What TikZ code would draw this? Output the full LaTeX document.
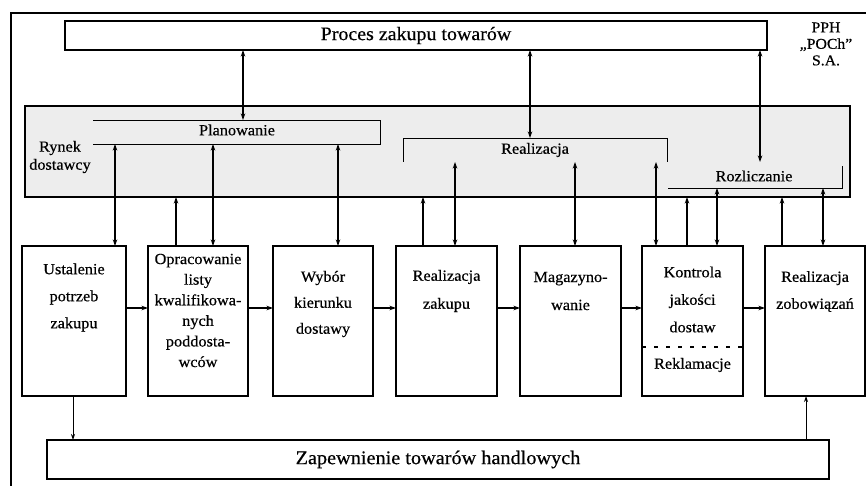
\documentclass[tikz,border=0pt]{standalone}
\usepackage{fontspec}
\setmainfont[FakeStretch=1.05,FakeBold=0.5]{Liberation Serif}
\usetikzlibrary{arrows.meta}
\begin{document}
\begin{tikzpicture}[x=1pt,y=-1pt,
  box/.style={draw, line width=2.2pt, inner sep=0pt, outer sep=0pt},
  ghost/.style={inner sep=0pt, outer sep=0pt},
  lbl/.style={font=\fontsize{15.5}{27}\selectfont, align=center, inner sep=0pt},
  bigtxt/.style={font=\fontsize{19}{22}\selectfont},
  brk/.style={line width=0.9pt},
  dbl/.style={{Stealth[length=6.5pt,width=4.5pt]}-{Stealth[length=6.5pt,width=4.5pt]}, line width=1.2pt},
  onearrow/.style={-{Stealth[length=6.5pt,width=4.5pt]}, line width=1.2pt},
  thinarrow/.style={-{Stealth[length=6pt,width=4pt]}, line width=0.8pt}]
\useasboundingbox (0,0) rectangle (866,486);
% outer frame (left and top edges only)
\coordinate (fBL) at (11,486);
\coordinate (fTL) at (11,13);
\coordinate (fTR) at (866,13);
\draw[line width=1.3pt] (fBL) -- (fTL) -- (fTR);

% top process box
\node[box, bigtxt, minimum width=702pt, minimum height=29pt] (top) at (416,35.5) {Proces zakupu towarów};
\node[font=\fontsize{15}{16.5}\selectfont, align=center, inner sep=0pt] (pph) at (826,44) {PPH\\„POCh”\\S.A.};

% shaded band
\node[draw, line width=1.2pt, fill=gray!14, minimum width=825pt, minimum height=91pt, inner sep=0pt, outer sep=0pt] (band) at (437.5,151.5) {};

% brackets
\node[ghost, minimum width=287pt, minimum height=24pt] (plan) at (236.5,132) {};
\draw[brk] (plan.north west) -- (plan.north east) -- (plan.south east) -- (plan.south west);
\node[lbl] (plantxt) at (237,130) {Planowanie};

\node[ghost, minimum width=264pt, minimum height=24pt] (real) at (535,150) {};
\draw[brk] (real.south west) -- (real.north west) -- (real.north east) -- (real.south east);
\node[lbl] (realtxt) at (535,150) {Realizacja};

\node[ghost, minimum width=174pt, minimum height=22pt] (rozl) at (755,177) {};
\draw[brk] (rozl.south west) -- (rozl.south east) -- (rozl.north east);
\node[lbl] (rozltxt) at (754,176) {Rozliczanie};

\node[lbl, font=\fontsize{15.5}{18}\selectfont] (rynek) at (60,157) {Rynek\\dostawcy};

% process boxes
\node[box, minimum width=104pt, minimum height=150pt] (b1) at (74,321) {};
\node[box, minimum width=100pt, minimum height=150pt] (b2) at (198,321) {};
\node[box, minimum width=100pt, minimum height=150pt] (b3) at (323,321) {};
\node[box, minimum width=101pt, minimum height=150pt] (b4) at (446.5,321) {};
\node[box, minimum width=101pt, minimum height=150pt] (b5) at (570.5,321) {};
\node[box, minimum width=101pt, minimum height=150pt] (b6) at (692.5,321) {};
\node[box, minimum width=100pt, minimum height=150pt] (b7) at (815,321) {};

\node[lbl] (t1) at (74,297.5) {Ustalenie\\potrzeb\\zakupu};
\node[lbl, font=\fontsize{15.5}{20.6}\selectfont] (t2) at (198,310.5) {Opracowanie\\listy\\kwalifikowa-\\nych\\poddosta-\\wców};
\node[lbl, font=\fontsize{15.5}{26}\selectfont] (t3) at (323,304) {Wybór\\kierunku\\dostawy};
\node[lbl, font=\fontsize{15.5}{28}\selectfont] (t4) at (446.5,291) {Realizacja\\zakupu};
\node[lbl, font=\fontsize{15.5}{28}\selectfont] (t5) at (570.5,291) {Magazyno-\\wanie};
\node[lbl, font=\fontsize{15.5}{27.5}\selectfont] (t6) at (692.5,299.5) {Kontrola\\jakości\\dostaw};
\node[lbl, font=\fontsize{15.5}{27}\selectfont] (t7) at (815,291.5) {Realizacja\\zobowiązań};
\coordinate (dl) at (0,347);
\draw[line width=2.2pt, dash pattern=on 4pt off 8pt] (b6.west |- dl) -- (b6.east |- dl);
\node[lbl] (t6b) at (692.5,365) {Reklamacje};

% bottom box
\node[box, font=\fontsize{19.3}{22}\selectfont, minimum width=782pt, minimum height=39pt] (bot) at (438,459.5) {Zapewnienie towarów handlowych};

% horizontal flow arrows
\coordinate (hy) at (0,308);
\draw[onearrow] (b1.east |- hy) -- (b2.west |- hy);
\draw[onearrow] (b2.east |- hy) -- (b3.west |- hy);
\draw[onearrow] (b3.east |- hy) -- (b4.west |- hy);
\draw[onearrow] (b4.east |- hy) -- (b5.west |- hy);
\draw[onearrow] (b5.east |- hy) -- (b6.west |- hy);
\draw[onearrow] (b6.east |- hy) -- (b7.west |- hy);

% top box to band
\coordinate (va) at (243,0);
\coordinate (vb) at (530,0);
\coordinate (vc) at (760,0);
\coordinate (vcEnd) at (760,162);
\draw[dbl] (top.south -| va) -- (plan.north -| va);
\draw[dbl] (top.south -| vb) -- (real.north -| vb);
\draw[dbl] (top.south -| vc) -- (vcEnd);

% band to boxes
\coordinate (x1) at (115,0);
\coordinate (x2) at (176,0);
\coordinate (x3) at (213,0);
\coordinate (x4) at (338,0);
\coordinate (x5) at (423,0);
\coordinate (x6) at (455,0);
\coordinate (x7) at (575,0);
\coordinate (x8) at (656,0);
\coordinate (x9) at (687,0);
\coordinate (x10) at (717,0);
\coordinate (x11) at (782,0);
\coordinate (x12) at (823,0);
\coordinate (ry) at (0,162);
\draw[dbl] (plan.south -| x1) -- (b1.north -| x1);
\draw[onearrow] (b2.north -| x2) -- (band.south -| x2);
\draw[dbl] (plan.south -| x3) -- (b2.north -| x3);
\draw[dbl] (plan.south -| x4) -- (b3.north -| x4);
\draw[onearrow] (b4.north -| x5) -- (band.south -| x5);
\draw[dbl] (ry -| x6) -- (b4.north -| x6);
\draw[dbl] (ry -| x7) -- (b5.north -| x7);
\draw[dbl] (ry -| x8) -- (b6.north -| x8);
\draw[onearrow] (b6.north -| x9) -- (band.south -| x9);
\draw[dbl] (rozl.south -| x10) -- (b6.north -| x10);
\draw[onearrow] (b7.north -| x11) -- (band.south -| x11);
\draw[dbl] (rozl.south -| x12) -- (b7.north -| x12);

% boxes to bottom box
\coordinate (xb1) at (73,0);
\coordinate (xb2) at (806,0);
\draw[thinarrow] (b1.south -| xb1) -- (bot.north -| xb1);
\draw[thinarrow] (bot.north -| xb2) -- (b7.south -| xb2);
\end{tikzpicture}
\end{document}
